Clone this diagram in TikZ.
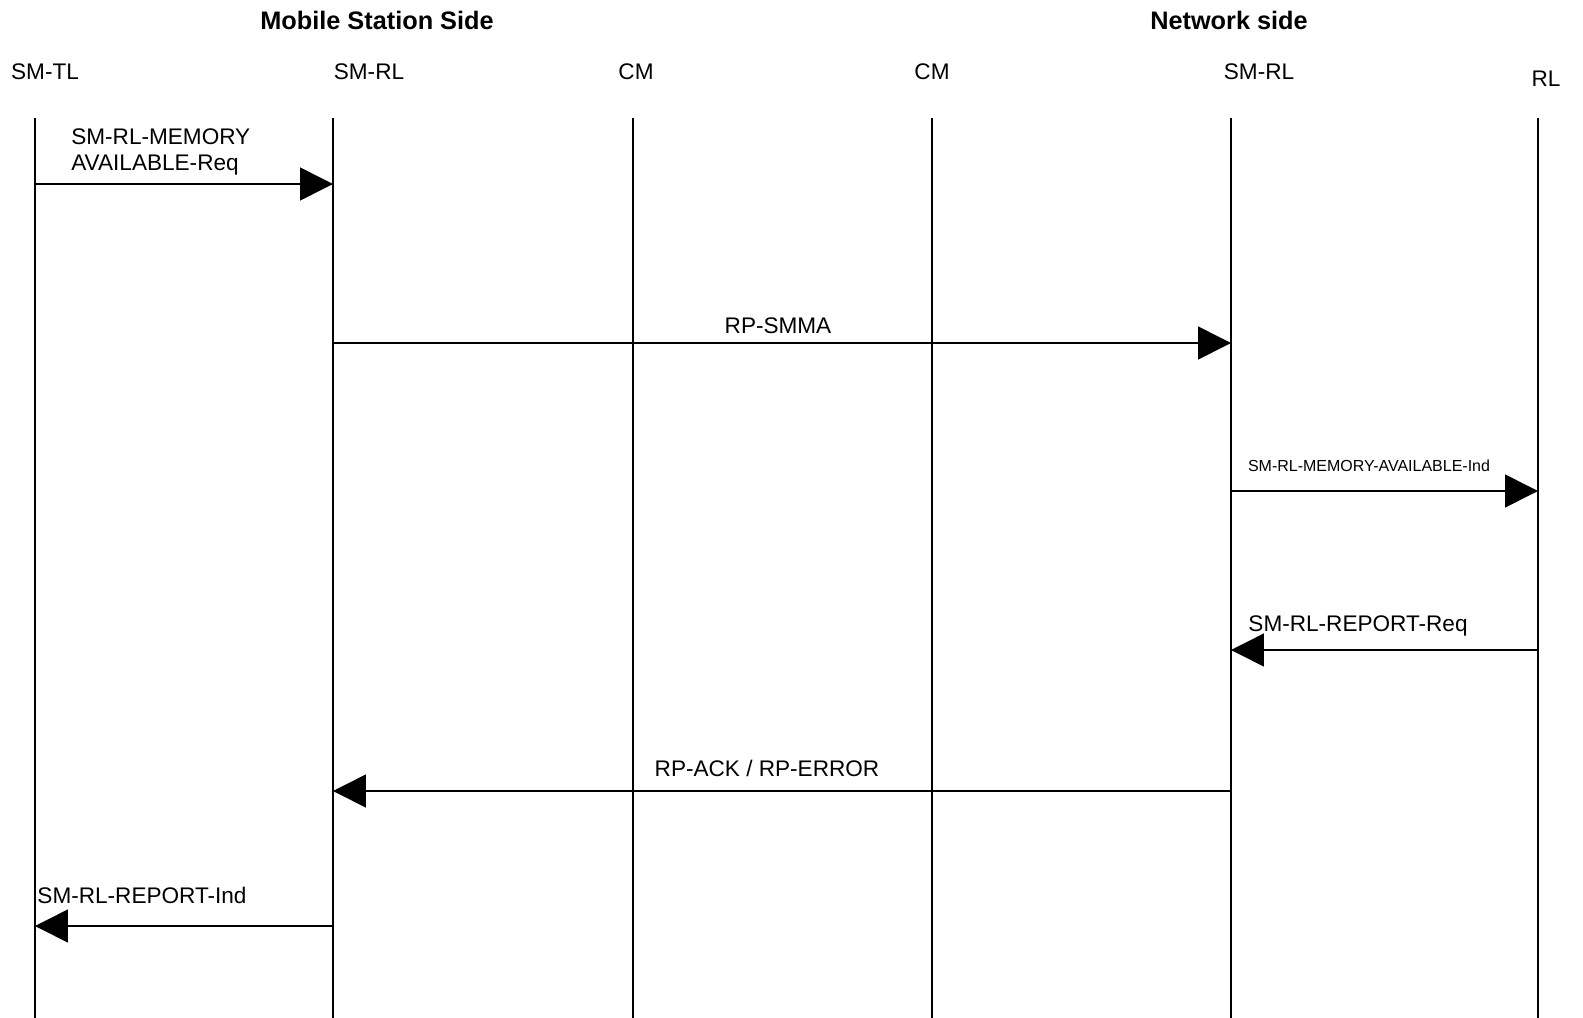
\documentclass[tikz,border=0pt]{standalone}
\usepackage{fontspec}
\setmainfont{Liberation Sans}
\usetikzlibrary{arrows.meta}

\begin{document}
\begin{tikzpicture}[x=0.02cm, y=-0.02cm,
    every node/.style={inner sep=0pt, font=\fontsize{12.85}{15.3}\selectfont},
    title/.style={font=\fontsize{14.4}{17}\selectfont\bfseries},
    small/.style={font=\fontsize{9.1}{11}\selectfont},
    life/.style={line width=0.9pt},
    msg/.style={line width=0.9pt, -{Triangle[length=18.7pt, width=18.7pt]}}]
    \useasboundingbox (0,0) rectangle (1583,1018);

    % side titles
    \node[title] (ms) at (377,20) {Mobile Station Side};
    \node[title] (nw) at (1229,20) {Network side};

    % entity names
    \node (tl) at (45,72) {SM-TL};
    \node (rl1) at (369,72) {SM-RL};
    \node (cm1) at (636,72) {CM};
    \node (cm2) at (932,72) {CM};
    \node (rl2) at (1259,72) {SM-RL};
    \node (rl) at (1546,79) {RL};

    % lifelines
    \coordinate (tlT) at (35,118);   \coordinate (tlB) at (35,1018);
    \coordinate (rl1T) at (333,118); \coordinate (rl1B) at (333,1018);
    \coordinate (cm1T) at (633,118); \coordinate (cm1B) at (633,1018);
    \coordinate (cm2T) at (932,118); \coordinate (cm2B) at (932,1018);
    \coordinate (rl2T) at (1231,118); \coordinate (rl2B) at (1231,1018);
    \coordinate (rlT) at (1538,118); \coordinate (rlB) at (1538,1018);
    \draw[life] (tlT) -- (tlB);
    \draw[life] (rl1T) -- (rl1B);
    \draw[life] (cm1T) -- (cm1B);
    \draw[life] (cm2T) -- (cm2B);
    \draw[life] (rl2T) -- (rl2B);
    \draw[life] (rlT) -- (rlB);

    % messages
    \coordinate (m1a) at (35,184);   \coordinate (m1b) at (333,184);
    \coordinate (m2a) at (333,343);  \coordinate (m2b) at (1231,343);
    \coordinate (m3a) at (1231,491); \coordinate (m3b) at (1538,491);
    \coordinate (m4a) at (1538,650); \coordinate (m4b) at (1231,650);
    \coordinate (m5a) at (1231,791); \coordinate (m5b) at (333,791);
    \coordinate (m6a) at (333,926);  \coordinate (m6b) at (35,926);
    \draw[msg] (m1a) -- (m1b);
    \draw[msg] (m2a) -- (m2b);
    \draw[msg] (m3a) -- (m3b);
    \draw[msg] (m4a) -- (m4b);
    \draw[msg] (m5a) -- (m5b);
    \draw[msg] (m6a) -- (m6b);

    \node[anchor=west, align=left] (l1) at (71,152) {SM-RL-MEMORY\\AVAILABLE-Req};
    \node (l2) at (778,326) {RP-SMMA};
    \node[small] (l3) at (1369,466) {SM-RL-MEMORY-AVAILABLE-Ind};
    \node (l4) at (1358,626) {SM-RL-REPORT-Req};
    \node (l5) at (767,768) {RP-ACK / RP-ERROR};
    \node (l6) at (142,895) {SM-RL-REPORT-Ind};
\end{tikzpicture}
\end{document}
